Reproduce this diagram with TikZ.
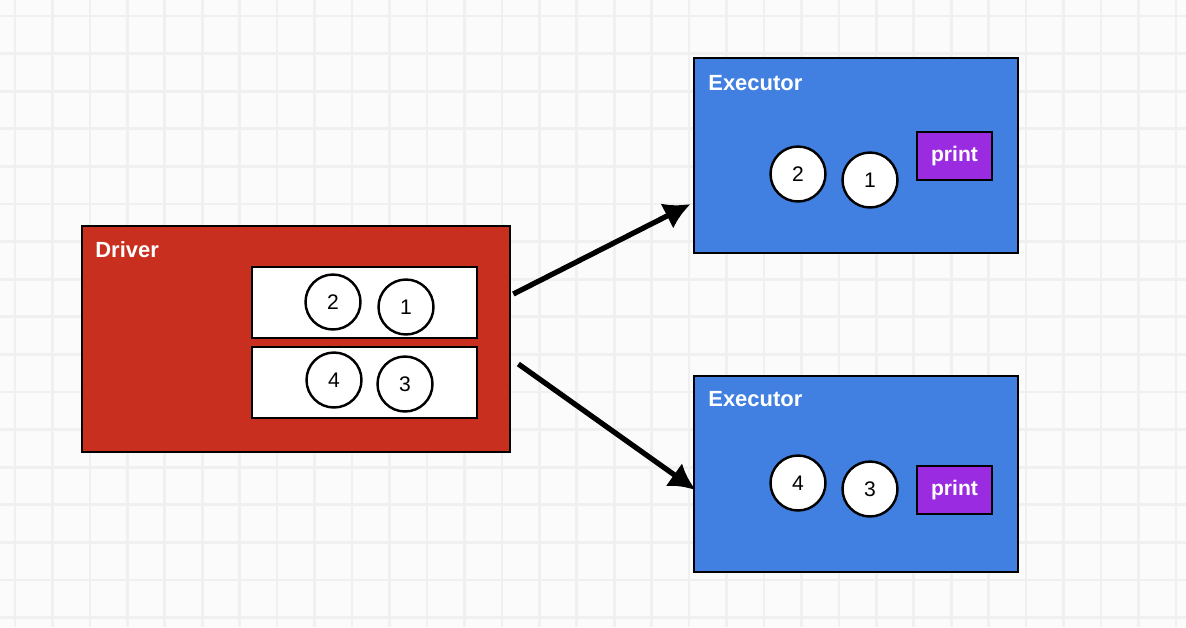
\documentclass[tikz,border=0pt]{standalone}
\usepackage{fontspec}
\setmainfont{Liberation Sans}
\usetikzlibrary{arrows.meta, calc}

\definecolor{drivered}{HTML}{C92F1E}
\definecolor{execblue}{HTML}{4180E0}
\definecolor{printpurple}{HTML}{9B2BE0}
\definecolor{gridgray}{HTML}{F0F0F0}
\definecolor{paper}{HTML}{FBFBFB}

\begin{document}
\begin{tikzpicture}[x=0.02cm, y=-0.02cm,
    box/.style={draw, line width=1.6pt, inner sep=0pt},
    ball/.style={circle, draw, fill=white, line width=1.4pt, minimum size=1.1cm, inner sep=0pt, font=\fontsize{12}{12}\selectfont},
    title/.style={anchor=base west, text=white, inner sep=0pt, font=\bfseries\fontsize{12.5}{12.5}\selectfont},
    printbox/.style={box, fill=printpurple, text=white, minimum width=1.5cm, minimum height=0.96cm, font=\bfseries\fontsize{12}{12}\selectfont},
    link/.style={-{Latex[length=15pt, width=16pt]}, line width=3pt}]

    % Background grid
    \useasboundingbox[fill=paper] (0,0) rectangle (1186,627);
    \foreach \i in {0,...,31}
        \draw[gridgray, line width=1.5pt] (15+37.45*\i,0) -- (15+37.45*\i,627);
    \foreach \j in {0,...,16}
        \draw[gridgray, line width=1.5pt] (0,16+37.6*\j) -- (1186,16+37.6*\j);

    % Driver
    \node[box, fill=drivered, minimum width=8.56cm, minimum height=4.52cm] (drv) at (296,339) {};
    \node[title] (drvlabel) at (95,257) {Driver};
    \node[box, fill=white, minimum width=4.5cm, minimum height=1.42cm] (partA) at (364.5,302.5) {};
    \node[box, fill=white, minimum width=4.5cm, minimum height=1.42cm] (partB) at (364.5,382.5) {};
    \node[ball] (d2) at (333,302) {2};
    \node[ball] (d1) at (406,307) {1};
    \node[ball] (d4) at (334,380) {4};
    \node[ball] (d3) at (405,384) {3};

    % Executors
    \node[box, fill=execblue, minimum width=6.48cm, minimum height=3.9cm] (exA) at (856,155.5) {};
    \node[title] (exAlabel) at (708,90) {Executor};
    \node[ball] (a2) at (798,174) {2};
    \node[ball] (a1) at (870,180) {1};
    \node[printbox] (printA) at (954.5,156) {print};

    \node[box, fill=execblue, minimum width=6.48cm, minimum height=3.92cm] (exB) at (856,474) {};
    \node[title] (exBlabel) at (708,406) {Executor};
    \node[ball] (b4) at (798,483) {4};
    \node[ball] (b3) at (870,489) {3};
    \node[printbox] (printB) at (954.5,490) {print};

    % Draw connections
    \coordinate (outA) at ($(drv.east)+(2,-45)$);
    \coordinate (outB) at ($(drv.east)+(7,25)$);
    \draw[link] (outA) -- ($(exA.west)+(-2,48.5)$);
    \draw[link] (outB) -- ($(exB.west)+(3,16)$);
\end{tikzpicture}
\end{document}
